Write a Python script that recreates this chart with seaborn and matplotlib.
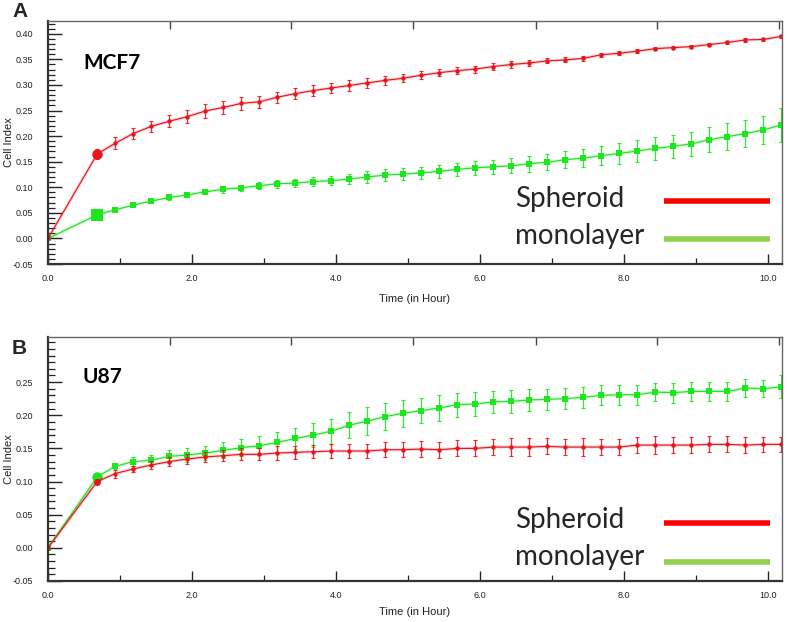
import matplotlib
matplotlib.use("Agg")
import matplotlib.pyplot as plt
import seaborn as sns
import numpy as np
import pandas as pd
from matplotlib.ticker import MultipleLocator, FormatStrFormatter, FixedLocator

sns.set_style("white")
plt.rcParams['font.family'] = ['Liberation Sans', 'DejaVu Sans']

# ---- data (hours) ----
time_h = [0.0, 0.683, 0.933, 1.183, 1.433, 1.683, 1.933, 2.183, 2.433, 2.683,
          2.933, 3.183, 3.433, 3.683, 3.933, 4.183, 4.433, 4.683, 4.933, 5.183,
          5.433, 5.683, 5.933, 6.183, 6.433, 6.683, 6.933, 7.183, 7.433, 7.683,
          7.933, 8.183, 8.433, 8.683, 8.933, 9.183, 9.433, 9.683, 9.933, 10.183]

mcf7_spheroid = [0.000, 0.165, 0.186, 0.205, 0.219, 0.229, 0.238, 0.249, 0.256, 0.264,
                 0.267, 0.276, 0.283, 0.289, 0.294, 0.299, 0.304, 0.309, 0.313, 0.319,
                 0.324, 0.328, 0.331, 0.336, 0.340, 0.343, 0.347, 0.349, 0.352, 0.359,
                 0.362, 0.366, 0.371, 0.373, 0.375, 0.379, 0.383, 0.388, 0.389, 0.395]
mcf7_spheroid_err = [0, .010, .012, .011, .011, .012, .013, .013, .012, .012,
                     .012, .011, .011, .010, .010, .010, .009, .009, .008, .008,
                     .007, .007, .007, .006, .006, .006, .005, .005, .005, .004,
                     .004, .004, .003, .003, .003, .003, .003, .004, .003, .003]
mcf7_monolayer = [0.000, 0.046, 0.056, 0.065, 0.073, 0.080, 0.085, 0.091, 0.096, 0.099,
                  0.103, 0.107, 0.108, 0.111, 0.113, 0.116, 0.120, 0.124, 0.126, 0.128,
                  0.131, 0.135, 0.138, 0.140, 0.142, 0.146, 0.149, 0.154, 0.157, 0.162,
                  0.166, 0.171, 0.176, 0.180, 0.185, 0.193, 0.199, 0.205, 0.212, 0.222]
mcf7_monolayer_err = [0, .004, .003, .003, .003, .004, .005, .005, .007, .006,
                      .007, .008, .008, .009, .009, .010, .011, .011, .012, .012,
                      .013, .013, .014, .014, .015, .016, .016, .017, .018, .019,
                      .020, .021, .022, .023, .024, .025, .026, .027, .028, .033]

u87_spheroid = [0.000, 0.100, 0.112, 0.119, 0.125, 0.130, 0.134, 0.137, 0.139, 0.141,
                0.141, 0.143, 0.144, 0.145, 0.146, 0.146, 0.146, 0.148, 0.148, 0.149,
                0.148, 0.150, 0.150, 0.152, 0.152, 0.152, 0.153, 0.152, 0.152, 0.152,
                0.152, 0.155, 0.155, 0.155, 0.155, 0.156, 0.156, 0.155, 0.156, 0.156]
u87_spheroid_err = [0, .004, .006, .005, .006, .007, .007, .008, .008, .009,
                    .009, .010, .010, .010, .011, .011, .011, .011, .011, .012,
                    .012, .012, .012, .012, .013, .013, .012, .012, .013, .012,
                    .012, .012, .013, .012, .012, .012, .012, .012, .011, .011]
u87_monolayer = [0.000, 0.107, 0.123, 0.130, 0.132, 0.138, 0.140, 0.143, 0.147, 0.151,
                 0.154, 0.159, 0.165, 0.170, 0.176, 0.185, 0.191, 0.198, 0.203, 0.207,
                 0.211, 0.216, 0.217, 0.220, 0.221, 0.223, 0.224, 0.225, 0.227, 0.230,
                 0.231, 0.231, 0.235, 0.234, 0.236, 0.236, 0.236, 0.241, 0.240, 0.243]
u87_monolayer_err = [0, .004, .004, .007, .008, .009, .010, .011, .012, .013,
                     .014, .015, .016, .018, .019, .020, .021, .020, .020, .019,
                     .019, .018, .018, .017, .017, .016, .016, .016, .016, .015,
                     .015, .015, .014, .015, .014, .014, .014, .014, .013, .017]

x_tick_labels = ['0.0', '2.0', '4.0', '6.0', '8.0', '10.0']
legend_labels = ['Spheroid', 'monolayer']
panel_letters = ['A', 'B']
cell_lines = ['MCF7', 'U87']

RED = '#e8141c'
GREEN = '#1ee61e'
LEG_RED = '#ff0000'
LEG_GREEN = '#92d050'

fig = plt.figure(figsize=(7.87, 6.22), dpi=100)
ax_top = fig.add_axes([48/787, 1-264/622, 734/787, 243/622])
ax_bot = fig.add_axes([48/787, 1-581/622, 734/787, 244/622])

panels = [
    dict(ax=ax_top, sph=mcf7_spheroid, sph_e=mcf7_spheroid_err, mono=mcf7_monolayer,
         mono_e=mcf7_monolayer_err, ymax=0.425, ylab_max=0.40,
         first=(('o', 7.5), ('s', 8)), leg=(56.6, 20, 62.6, 24.6), hpx=243,
         label_top=32, xlab_y=-0.125),
    dict(ax=ax_bot, sph=u87_spheroid, sph_e=u87_spheroid_err, mono=u87_monolayer,
         mono_e=u87_monolayer_err, ymax=0.318, ylab_max=0.25,
         first=(('o', 5), ('o', 7.5)), leg=(52.7, 16, 57.7, 19), hpx=244,
         label_top=30, xlab_y=-0.106),
]

for i, p in enumerate(panels):
    ax = p['ax']
    hpx = p['hpx']
    df = pd.DataFrame({
        'Time': time_h * 2,
        'CI': p['sph'] + p['mono'],
        'err': p['sph_e'] + p['mono_e'],
        'group': ['Spheroid'] * len(time_h) + ['monolayer'] * len(time_h),
    })
    for grp, col, mk, ms, big in [('monolayer', GREEN, 's', 4, p['first'][1]),
                                  ('Spheroid', RED, 'o', 3.2, p['first'][0])]:
        d = df[df.group == grp]
        sns.lineplot(data=d, x='Time', y='CI', ax=ax, color=col, lw=2.4, alpha=0.16,
                     estimator=None, legend=False)
        sns.lineplot(data=d, x='Time', y='CI', ax=ax, color=col, lw=0.85,
                     marker=mk, markersize=ms, markeredgewidth=0,
                     estimator=None, legend=False)
        ax.errorbar(d['Time'], d['CI'], yerr=d['err'], fmt='none', ecolor=col,
                    elinewidth=0.9, capsize=1.3, capthick=0.8, alpha=0.9)
        d1 = d.iloc[[1]]
        ax.plot(d1['Time'], d1['CI'], marker=big[0], color=col, markersize=big[1],
                markeredgewidth=0, linestyle='none')

    ax.set_xlim(0, 10.19)
    ax.set_ylim(-0.05, p['ymax'])
    ax.set_xticks([0, 2, 4, 6, 8, 10])
    ax.set_xticklabels(x_tick_labels)
    ax.xaxis.set_minor_locator(MultipleLocator(1))
    ax.yaxis.set_major_locator(FixedLocator(list(np.arange(-0.05, p['ylab_max'] + 0.001, 0.05))))
    ax.yaxis.set_minor_locator(MultipleLocator(0.01))
    ax.yaxis.set_major_formatter(FormatStrFormatter('%.2f'))
    ax.tick_params(axis='both', which='both', direction='in', colors='#222222',
                   labelsize=6.5)
    ax.tick_params(axis='x', which='major', length=7, width=1.0, pad=7)
    ax.tick_params(axis='x', which='minor', length=4, width=0.9)
    ax.tick_params(axis='y', which='major', length=10, width=1.0, pad=10.5)
    ax.tick_params(axis='y', which='minor', length=5, width=0.9)
    ax.tick_params(axis='y', which='both', left=True)
    ax.tick_params(axis='x', which='both', bottom=True)
    ax.set_xlabel('Time (in Hour)', fontsize=8, color='#222222')
    ax.xaxis.set_label_coords(0.5, p['xlab_y'])
    ax.set_ylabel('Cell Index', fontsize=8, color='#222222')
    ax.yaxis.set_label_coords(-0.046, 0.5)
    for s in ['left', 'bottom']:
        ax.spines[s].set_color('#333333')
        ax.spines[s].set_linewidth(1.6)
    for s in ['top', 'right']:
        ax.spines[s].set_color('#666666')
        ax.spines[s].set_linewidth(1.0)
    sec = ax.secondary_xaxis('top')
    sec.set_xticks([1.69, 3.38, 5.07, 6.77, 8.46, 10.15])
    sec.set_xticklabels([])
    sec.tick_params(direction='in', length=6, width=1.0, colors='#444444')
    sec.spines['top'].set_visible(False)

    ax.text(35/734, 1 - p['label_top'] / hpx, cell_lines[i], transform=ax.transAxes,
            fontsize=15, fontweight='bold', family=['Lato', 'DejaVu Sans'],
            va='top', ha='left', color='black')

    tb1, tb2, ly1, ly2 = p['leg']
    ax.text((515-48)/734, tb1/hpx, legend_labels[0], transform=ax.transAxes,
            fontsize=20, family=['Lato', 'DejaVu Sans'], va='baseline', ha='left')
    ax.text((515-48)/734, tb2/hpx, legend_labels[1], transform=ax.transAxes,
            fontsize=20, family=['Lato', 'DejaVu Sans'], va='baseline', ha='left')
    ax.plot([(664-48)/734, (770-48)/734], [ly1/hpx, ly1/hpx], transform=ax.transAxes,
            color=LEG_RED, lw=4, solid_capstyle='butt')
    ax.plot([(664-48)/734, (770-48)/734], [ly2/hpx, ly2/hpx], transform=ax.transAxes,
            color=LEG_GREEN, lw=4, solid_capstyle='butt')

fig.text(12/787, 1 - 2/622, panel_letters[0], fontsize=15, fontweight='bold', va='top', ha='left')
fig.text(12/787, 1 - 339/622, panel_letters[1], fontsize=15, fontweight='bold', va='top', ha='left')

fig.savefig('out.png', dpi=100)
